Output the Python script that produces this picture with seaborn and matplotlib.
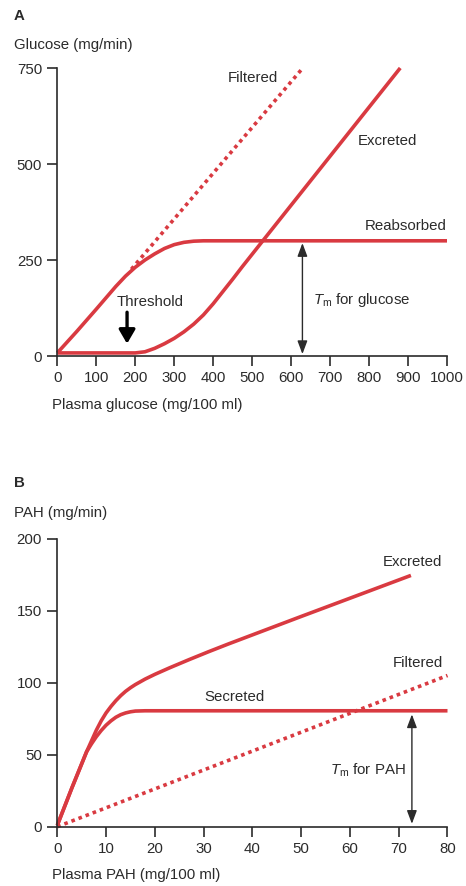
import matplotlib
matplotlib.use("Agg")
import matplotlib.pyplot as plt
import seaborn as sns
import pandas as pd

# ---- panel A: glucose ----
glu_filtered_x = [190, 630]
glu_filtered_y = [226, 750]
glu_reabs_x = [0, 50, 100, 150, 175, 200, 225, 250, 275, 300, 325, 350, 375, 1000]
glu_reabs_y = [8, 64, 122, 181, 208, 231, 250, 266, 280, 290, 296, 299, 300, 300]
glu_excr_x = [0, 200, 225, 250, 275, 300, 325, 350, 375, 400, 425, 450, 475, 500, 525, 880]
glu_excr_y = [8, 8, 11, 20, 32, 46, 63, 83, 107, 136, 168, 200, 233, 265, 297, 750]
glu_xticks = [0, 100, 200, 300, 400, 500, 600, 700, 800, 900, 1000]
glu_yticks = [0, 250, 500, 750]

# ---- panel B: PAH ----
pah_filtered_x = [0, 80]
pah_filtered_y = [0, 105]
pah_secr_x = [0, 3, 6, 7, 8, 9, 10, 11, 12, 13, 14, 15, 16, 18, 80]
pah_secr_y = [1, 27, 52, 57.5, 62.5, 66.8, 70.5, 73.5, 76, 77.8, 79, 79.8, 80.3, 80.5, 80.5]
pah_excr_x = [0, 3, 6, 7, 8, 9, 10, 11, 12, 13, 14, 15, 16, 18, 20, 23, 27, 31, 35, 50, 72.5]
pah_excr_y = [1, 27, 52, 59.5, 67, 73.5, 79, 83.5, 87.5, 91, 94, 96.5, 98.7, 102.5,
              105.8, 110.3, 116, 121.5, 126.8, 146, 174.5]
pah_xticks = [0, 10, 20, 30, 40, 50, 60, 70, 80]
pah_yticks = [0, 50, 100, 150, 200]

RED = "#d93a41"
INK = "#2b2b2b"
FS = 10.8

sns.set_style("ticks")
plt.rcParams["font.family"] = ["Liberation Sans", "DejaVu Sans"]
plt.rcParams["mathtext.fontset"] = "custom"
plt.rcParams["mathtext.rm"] = "Liberation Sans"
plt.rcParams["mathtext.it"] = "Liberation Sans:italic"

W, H = 466, 886
fig = plt.figure(figsize=(W / 100, H / 100), dpi=100)
fig.patch.set_facecolor("white")

def px_axes(left, right, top, bottom):
    return fig.add_axes([left / W, 1 - bottom / H, (right - left) / W, (bottom - top) / H])

axA = px_axes(57.3, 447, 68, 356)
axB = px_axes(57.3, 447.5, 538.7, 826.7)

def curve(ax, xs, ys, dotted=False):
    df = pd.DataFrame({"x": xs, "y": ys})
    kw = dict(color=RED, lw=2.6, clip_on=False)
    if dotted:
        kw.update(linestyle=(0, (1, 1.1)), dash_capstyle="butt", lw=2.6)
    else:
        kw.update(solid_capstyle="butt", solid_joinstyle="round")
    sns.lineplot(data=df, x="x", y="y", ax=ax, **kw)

def style_axes(ax, xticks, yticks):
    ax.set_xlim(xticks[0], xticks[-1])
    ax.set_ylim(yticks[0], yticks[-1])
    ax.set_xticks(xticks)
    ax.set_yticks(yticks)
    ax.set_xlabel("")
    ax.set_ylabel("")
    for s in ["top", "right"]:
        ax.spines[s].set_visible(False)
    for s in ["left", "bottom"]:
        ax.spines[s].set_color(INK)
        ax.spines[s].set_linewidth(1.2)
    ax.tick_params(direction="out", length=7, width=1.2, color=INK,
                   labelsize=FS, labelcolor=INK, pad=4)
    ax.set_facecolor("white")

# panel A
curve(axA, glu_filtered_x, glu_filtered_y, dotted=True)
curve(axA, glu_reabs_x, glu_reabs_y)
curve(axA, glu_excr_x, glu_excr_y)
style_axes(axA, glu_xticks, glu_yticks)

axA.text(503, 725, "Filtered", ha="center", va="center", fontsize=FS, color=INK)
axA.text(848, 560, "Excreted", ha="center", va="center", fontsize=FS, color=INK)
axA.text(1000, 338, "Reabsorbed", ha="right", va="center", fontsize=FS, color=INK)
axA.text(238, 140, "Threshold", ha="center", va="center", fontsize=FS, color=INK)
axA.annotate("", xy=(179, 32), xytext=(179, 114),
             arrowprops=dict(arrowstyle="-|>,head_width=0.35,head_length=0.6",
                             color="black", lw=2.4, mutation_scale=14,
                             shrinkA=0, shrinkB=0))
axA.annotate("", xy=(629, 5), xytext=(629, 294),
             arrowprops=dict(arrowstyle="<|-|>,head_width=0.3,head_length=0.8",
                             color=INK, lw=1.0, mutation_scale=10,
                             shrinkA=0, shrinkB=0))
axA.text(655, 146, r"$T_{\mathrm{m}}$ for glucose", ha="left", va="center",
         fontsize=FS, color=INK)

# panel B
curve(axB, pah_filtered_x, pah_filtered_y, dotted=True)
curve(axB, pah_secr_x, pah_secr_y)
curve(axB, pah_excr_x, pah_excr_y)
style_axes(axB, pah_xticks, pah_yticks)

axB.text(78.9, 184, "Excreted", ha="right", va="center", fontsize=FS, color=INK)
axB.text(79, 113.6, "Filtered", ha="right", va="center", fontsize=FS, color=INK)
axB.text(36.3, 90, "Secreted", ha="center", va="center", fontsize=FS, color=INK)
axB.annotate("", xy=(72.7, 2), xytext=(72.7, 78),
             arrowprops=dict(arrowstyle="<|-|>,head_width=0.3,head_length=0.8",
                             color=INK, lw=1.0, mutation_scale=10,
                             shrinkA=0, shrinkB=0))
axB.text(71.5, 39.4, r"$T_{\mathrm{m}}$ for PAH", ha="right", va="center",
         fontsize=FS, color=INK)

# panel letters and axis titles
def ftext(x, y, s, **kw):
    fig.text(x / W, 1 - y / H, s, va="center", ha="left", fontsize=FS, color=INK, **kw)

ftext(14, 16, "A", fontweight="bold")
ftext(14, 44.5, "Glucose (mg/min)")
ftext(52, 405, "Plasma glucose (mg/100 ml)")
ftext(14, 483, "B", fontweight="bold")
ftext(14, 513, "PAH (mg/min)")
ftext(52, 875.5, "Plasma PAH (mg/100 ml)")

plt.savefig("out.png", dpi=100, facecolor="white")
